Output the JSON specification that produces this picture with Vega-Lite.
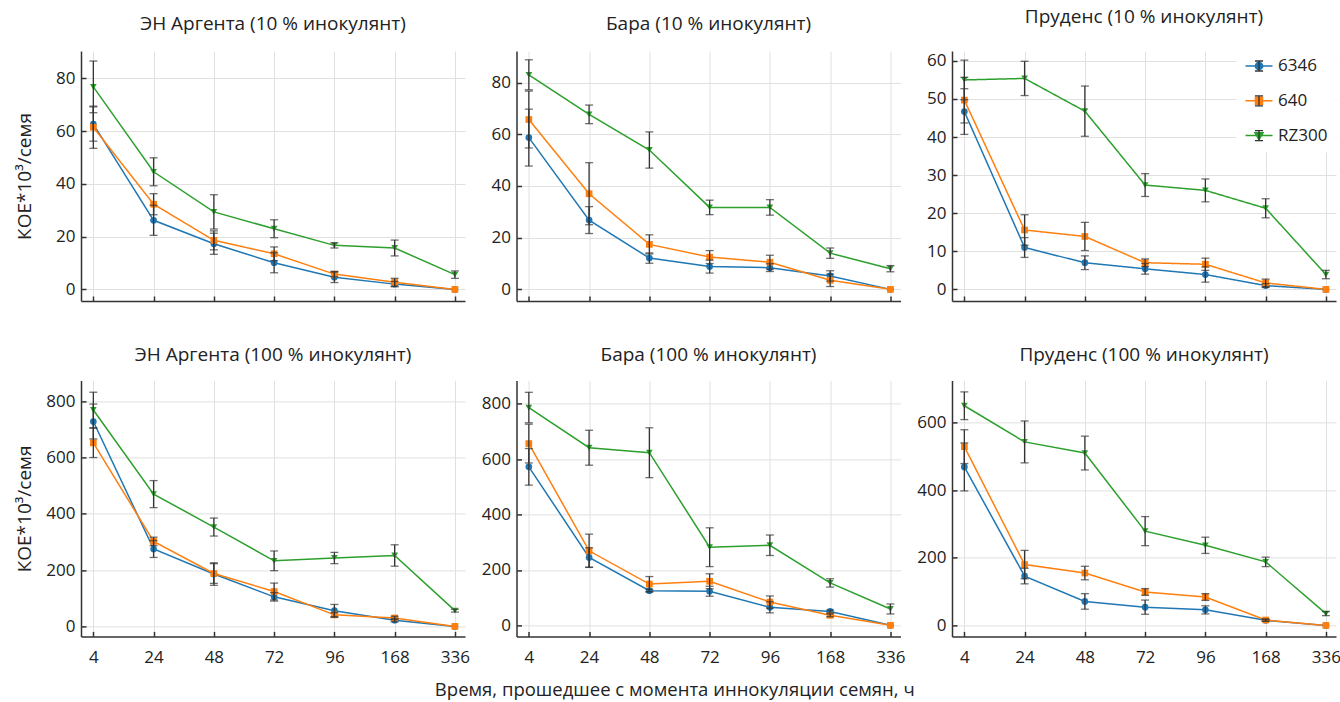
{
  "$schema": "https://vega.github.io/schema/vega-lite/v6.json",
  "padding": {"left": 15, "top": 7, "right": 3, "bottom": 2},
  "config": {
    "font": "Open Sans",
    "view": {"stroke": null},
    "axis": {
      "domainColor": "#333", "domainWidth": 1.5,
      "tickColor": "#333", "tickWidth": 1.5, "tickSize": -5,
      "gridColor": "#e0e0e0", "gridWidth": 1,
      "labelFont": "Open Sans", "labelFontSize": 17, "labelColor": "#222",
      "titleFont": "Open Sans", "titleFontSize": 19, "titleFontWeight": "normal", "titleColor": "#222"
    },
    "title": {"font": "Open Sans", "fontSize": 19, "fontWeight": "normal", "color": "#222", "offset": 21}
  },
  "title": {"text": "Время, прошедшее с момента иннокуляции семян, ч", "orient": "bottom", "anchor": "middle", "offset": 16, "fontSize": 18.5, "dx": -3},
  "data": {"values": [
    {"p":"A10","t":4,"s":"6346","v":62.7,"e":6.5},{"p":"A10","t":24,"s":"6346","v":26.2,"e":5.7},{"p":"A10","t":48,"s":"6346","v":17.3,"e":4.0},{"p":"A10","t":72,"s":"6346","v":10.1,"e":3.8},{"p":"A10","t":96,"s":"6346","v":4.6,"e":2.0},{"p":"A10","t":168,"s":"6346","v":2.0,"e":1.0},{"p":"A10","t":336,"s":"6346","v":0,"e":0},
    {"p":"A10","t":4,"s":"640","v":61.5,"e":8.0},{"p":"A10","t":24,"s":"640","v":32.3,"e":4.0},{"p":"A10","t":48,"s":"640","v":18.6,"e":3.6},{"p":"A10","t":72,"s":"640","v":13.5,"e":2.6},{"p":"A10","t":96,"s":"640","v":5.8,"e":1.0},{"p":"A10","t":168,"s":"640","v":2.7,"e":1.5},{"p":"A10","t":336,"s":"640","v":0,"e":0},
    {"p":"A10","t":4,"s":"RZ300","v":76.8,"e":9.8},{"p":"A10","t":24,"s":"RZ300","v":44.6,"e":5.3},{"p":"A10","t":48,"s":"RZ300","v":29.4,"e":6.5},{"p":"A10","t":72,"s":"RZ300","v":23.0,"e":3.4},{"p":"A10","t":96,"s":"RZ300","v":16.7,"e":1.0},{"p":"A10","t":168,"s":"RZ300","v":15.7,"e":3.0},{"p":"A10","t":336,"s":"RZ300","v":5.6,"e":1.4},

    {"p":"B10","t":4,"s":"6346","v":58.7,"e":11.0},{"p":"B10","t":24,"s":"6346","v":26.8,"e":5.2},{"p":"B10","t":48,"s":"6346","v":12.1,"e":2.0},{"p":"B10","t":72,"s":"6346","v":8.8,"e":2.5},{"p":"B10","t":96,"s":"6346","v":8.4,"e":1.5},{"p":"B10","t":168,"s":"6346","v":5.2,"e":2.0},{"p":"B10","t":336,"s":"6346","v":0,"e":0},
    {"p":"B10","t":4,"s":"640","v":65.7,"e":11.0},{"p":"B10","t":24,"s":"640","v":37.0,"e":12.0},{"p":"B10","t":48,"s":"640","v":17.4,"e":3.7},{"p":"B10","t":72,"s":"640","v":12.5,"e":2.5},{"p":"B10","t":96,"s":"640","v":10.5,"e":2.7},{"p":"B10","t":168,"s":"640","v":3.5,"e":2.4},{"p":"B10","t":336,"s":"640","v":0,"e":0},
    {"p":"B10","t":4,"s":"RZ300","v":83.0,"e":5.8},{"p":"B10","t":24,"s":"RZ300","v":67.7,"e":3.6},{"p":"B10","t":48,"s":"RZ300","v":53.9,"e":7.0},{"p":"B10","t":72,"s":"RZ300","v":31.7,"e":2.8},{"p":"B10","t":96,"s":"RZ300","v":31.7,"e":3.0},{"p":"B10","t":168,"s":"RZ300","v":14.0,"e":2.0},{"p":"B10","t":336,"s":"RZ300","v":8.0,"e":1.2},

    {"p":"P10","t":4,"s":"6346","v":46.7,"e":6.0},{"p":"P10","t":24,"s":"6346","v":11.0,"e":2.6},{"p":"P10","t":48,"s":"6346","v":7.0,"e":1.8},{"p":"P10","t":72,"s":"6346","v":5.4,"e":1.4},{"p":"P10","t":96,"s":"6346","v":3.9,"e":2.0},{"p":"P10","t":168,"s":"6346","v":1.0,"e":0.5},{"p":"P10","t":336,"s":"6346","v":0,"e":0},
    {"p":"P10","t":4,"s":"640","v":49.7,"e":6.0},{"p":"P10","t":24,"s":"640","v":15.6,"e":4.0},{"p":"P10","t":48,"s":"640","v":13.9,"e":3.7},{"p":"P10","t":72,"s":"640","v":7.0,"e":1.0},{"p":"P10","t":96,"s":"640","v":6.6,"e":1.6},{"p":"P10","t":168,"s":"640","v":1.7,"e":1.0},{"p":"P10","t":336,"s":"640","v":0,"e":0},
    {"p":"P10","t":4,"s":"RZ300","v":55.0,"e":5.2},{"p":"P10","t":24,"s":"RZ300","v":55.4,"e":4.5},{"p":"P10","t":48,"s":"RZ300","v":46.8,"e":6.6},{"p":"P10","t":72,"s":"RZ300","v":27.4,"e":3.0},{"p":"P10","t":96,"s":"RZ300","v":26.0,"e":3.0},{"p":"P10","t":168,"s":"RZ300","v":21.3,"e":2.5},{"p":"P10","t":336,"s":"RZ300","v":3.9,"e":1.1},

    {"p":"A100","t":4,"s":"6346","v":728,"e":62},{"p":"A100","t":24,"s":"6346","v":275,"e":30},{"p":"A100","t":48,"s":"6346","v":186,"e":40},{"p":"A100","t":72,"s":"6346","v":105,"e":15},{"p":"A100","t":96,"s":"6346","v":56,"e":22},{"p":"A100","t":168,"s":"6346","v":22,"e":6},{"p":"A100","t":336,"s":"6346","v":0,"e":0},
    {"p":"A100","t":4,"s":"640","v":652,"e":52},{"p":"A100","t":24,"s":"640","v":302,"e":15},{"p":"A100","t":48,"s":"640","v":188,"e":35},{"p":"A100","t":72,"s":"640","v":124,"e":30},{"p":"A100","t":96,"s":"640","v":41,"e":8},{"p":"A100","t":168,"s":"640","v":30,"e":6},{"p":"A100","t":336,"s":"640","v":0,"e":0},
    {"p":"A100","t":4,"s":"RZ300","v":769,"e":63},{"p":"A100","t":24,"s":"RZ300","v":470,"e":48},{"p":"A100","t":48,"s":"RZ300","v":353,"e":32},{"p":"A100","t":72,"s":"RZ300","v":233,"e":35},{"p":"A100","t":96,"s":"RZ300","v":243,"e":20},{"p":"A100","t":168,"s":"RZ300","v":252,"e":38},{"p":"A100","t":336,"s":"RZ300","v":56,"e":5},

    {"p":"B100","t":4,"s":"6346","v":572,"e":66},{"p":"B100","t":24,"s":"6346","v":245,"e":35},{"p":"B100","t":48,"s":"6346","v":125,"e":5},{"p":"B100","t":72,"s":"6346","v":123,"e":18},{"p":"B100","t":96,"s":"6346","v":65,"e":20},{"p":"B100","t":168,"s":"6346","v":50,"e":5},{"p":"B100","t":336,"s":"6346","v":0,"e":0},
    {"p":"B100","t":4,"s":"640","v":656,"e":70},{"p":"B100","t":24,"s":"640","v":269,"e":60},{"p":"B100","t":48,"s":"640","v":149,"e":27},{"p":"B100","t":72,"s":"640","v":159,"e":27},{"p":"B100","t":96,"s":"640","v":84,"e":22},{"p":"B100","t":168,"s":"640","v":36,"e":5},{"p":"B100","t":336,"s":"640","v":0,"e":0},
    {"p":"B100","t":4,"s":"RZ300","v":786,"e":55},{"p":"B100","t":24,"s":"RZ300","v":641,"e":63},{"p":"B100","t":48,"s":"RZ300","v":623,"e":90},{"p":"B100","t":72,"s":"RZ300","v":282,"e":70},{"p":"B100","t":96,"s":"RZ300","v":289,"e":37},{"p":"B100","t":168,"s":"RZ300","v":153,"e":15},{"p":"B100","t":336,"s":"RZ300","v":59,"e":18},

    {"p":"P100","t":4,"s":"6346","v":469,"e":71},{"p":"P100","t":24,"s":"6346","v":146,"e":23},{"p":"P100","t":48,"s":"6346","v":71,"e":23},{"p":"P100","t":72,"s":"6346","v":54,"e":21},{"p":"P100","t":96,"s":"6346","v":46,"e":12},{"p":"P100","t":168,"s":"6346","v":15,"e":3},{"p":"P100","t":336,"s":"6346","v":0,"e":0},
    {"p":"P100","t":4,"s":"640","v":529,"e":50},{"p":"P100","t":24,"s":"640","v":180,"e":42},{"p":"P100","t":48,"s":"640","v":155,"e":20},{"p":"P100","t":72,"s":"640","v":99,"e":10},{"p":"P100","t":96,"s":"640","v":84,"e":10},{"p":"P100","t":168,"s":"640","v":16,"e":3},{"p":"P100","t":336,"s":"640","v":0,"e":0},
    {"p":"P100","t":4,"s":"RZ300","v":650,"e":41},{"p":"P100","t":24,"s":"RZ300","v":543,"e":62},{"p":"P100","t":48,"s":"RZ300","v":510,"e":50},{"p":"P100","t":72,"s":"RZ300","v":279,"e":43},{"p":"P100","t":96,"s":"RZ300","v":237,"e":24},{"p":"P100","t":168,"s":"RZ300","v":188,"e":14},{"p":"P100","t":336,"s":"RZ300","v":35,"e":6}
  ]},
  "columns": 3,
  "spacing": {"column": 51.5, "row": 79.4},
  "bounds": "flush",
  "resolve": {"scale": {"x": "independent", "y": "independent", "color": "independent", "shape": "independent", "strokeDash": "independent"}},
  "concat": [
    {
      "title": {"text": "ЭН Аргента (10 % инокулянт)", "offset": 17},
      "width": 384, "height": 250,
      "transform": [{"filter": "datum.p === 'A10'"}],
      "encoding": {
        "x": {"field": "t", "type": "ordinal", "scale": {"type": "point", "padding": 0.186, "align": 0.55}, "axis": {"title": null, "labels": false, "grid": true}},
        "y": {"field": "v", "type": "quantitative", "scale": {"domain": [-4.4, 90.4], "nice": false, "zero": false}, "axis": {"title": "КОЕ*10³/семя", "values": [0, 20, 40, 60, 80], "labelPadding": 11, "minExtent": 40, "maxExtent": 40, "titlePadding": 7}},
        "color": {"field": "s", "type": "nominal", "scale": {"range": ["#1f77b4", "#ff7f0e", "#2ca02c"]}, "legend": null}
      },
      "layer": [
        {"mark": {"type": "line", "strokeWidth": 1.5}},
        {"mark": {"type": "point", "filled": true, "size": 45, "opacity": 1}, "encoding": {"shape": {"field": "s", "type": "nominal", "scale": {"range": ["circle", "square", "triangle-down"]}, "legend": null}}},
        {"transform": [{"filter": "datum.e > 0"}], "mark": {"type": "errorbar", "ticks": {"size": 8}, "thickness": 1.3}, "encoding": {"yError": {"field": "e"}, "color": {"value": "#333"}}}
      ]
    },
    {
      "title": {"text": "Бара (10 % инокулянт)", "offset": 17},
      "width": 384, "height": 250,
      "transform": [{"filter": "datum.p === 'B10'"}],
      "encoding": {
        "x": {"field": "t", "type": "ordinal", "scale": {"type": "point", "padding": 0.186, "align": 0.55}, "axis": {"title": null, "labels": false, "grid": true}},
        "y": {"field": "v", "type": "quantitative", "scale": {"domain": [-4.5, 92.2], "nice": false, "zero": false}, "axis": {"title": null, "values": [0, 20, 40, 60, 80], "labelPadding": 11}},
        "color": {"field": "s", "type": "nominal", "scale": {"range": ["#1f77b4", "#ff7f0e", "#2ca02c"]}, "legend": null}
      },
      "layer": [
        {"mark": {"type": "line", "strokeWidth": 1.5}},
        {"mark": {"type": "point", "filled": true, "size": 45, "opacity": 1}, "encoding": {"shape": {"field": "s", "type": "nominal", "scale": {"range": ["circle", "square", "triangle-down"]}, "legend": null}}},
        {"transform": [{"filter": "datum.e > 0"}], "mark": {"type": "errorbar", "ticks": {"size": 8}, "thickness": 1.3}, "encoding": {"yError": {"field": "e"}, "color": {"value": "#333"}}}
      ]
    },
    {
      "title": {"text": "Пруденс (10 % инокулянт)", "offset": 17},
      "width": 384, "height": 250,
      "transform": [{"filter": "datum.p === 'P10'"}],
      "encoding": {
        "x": {"field": "t", "type": "ordinal", "scale": {"type": "point", "padding": 0.186, "align": 0.55}, "axis": {"title": null, "labels": false, "grid": true}},
        "y": {"field": "v", "type": "quantitative", "scale": {"domain": [-3.05, 62.6], "nice": false, "zero": false}, "axis": {"title": null, "values": [0, 10, 20, 30, 40, 50, 60], "labelPadding": 11}},
        "color": {"field": "s", "type": "nominal", "scale": {"range": ["#1f77b4", "#ff7f0e", "#2ca02c"]},
          "legend": {
            "orient": "none", "legendX": 284.5, "legendY": -7.5, "title": null,
            "padding": 8, "fillColor": "white", "strokeColor": null, "symbolSize": 729, "symbolStrokeWidth": 1.5,
            "labelFontSize": 17, "labelOffset": 4.5, "rowPadding": 11.8, "labelColor": "#222", "labelFont": "Open Sans",
            "encode": {"symbols": {"update": {
              "shape": {"signal": "datum.value === '6346' ? 'M-1,0H1M-0.27,0A0.27,0.27,0,1,1,0.27,0A0.27,0.27,0,1,1,-0.27,0Z' : datum.value === '640' ? 'M-1,0H1M-0.26,-0.26H0.26V0.26H-0.26Z' : 'M-1,0H1M-0.3,-0.22H0.3L0,0.3Z'"},
              "fill": {"signal": "datum.value === '6346' ? '#1f77b4' : datum.value === '640' ? '#ff7f0e' : '#2ca02c'"},
              "stroke": {"signal": "datum.value === '6346' ? '#1f77b4' : datum.value === '640' ? '#ff7f0e' : '#2ca02c'"},
              "strokeWidth": {"value": 1.5},
              "opacity": {"value": 1}
            }}}
          }
        }
      },
      "layer": [
        {"mark": {"type": "line", "strokeWidth": 1.5},
         "encoding": {"strokeDash": {"field": "s", "type": "nominal", "scale": {"domain": ["6346", "640", "RZ300"], "range": [[1, 0], [1, 0], [1, 0]]},
           "legend": {
             "orient": "none", "legendX": 284.5, "legendY": -7.5, "title": null,
             "padding": 8, "fillColor": null, "strokeColor": null, "symbolSize": 729, "symbolStrokeWidth": 1.3,
             "labelFontSize": 17, "labelOffset": 4.5, "rowPadding": 11.8, "labelOpacity": 0, "labelFont": "Open Sans",
             "encode": {"symbols": {"update": {
               "shape": {"value": "M0,-0.37V0.37M-0.3,-0.37H0.3M-0.3,0.37H0.3"},
               "stroke": {"value": "#333"},
               "fill": {"value": "transparent"},
               "strokeDash": {"value": [1, 0]},
               "strokeWidth": {"value": 1.3},
               "opacity": {"value": 1}
             }}}
           }}}},
        {"mark": {"type": "point", "filled": true, "size": 45, "opacity": 1}, "encoding": {"shape": {"field": "s", "type": "nominal", "scale": {"range": ["circle", "square", "triangle-down"]}, "legend": null}}},
        {"transform": [{"filter": "datum.e > 0"}], "mark": {"type": "errorbar", "ticks": {"size": 8}, "thickness": 1.3}, "encoding": {"yError": {"field": "e"}, "color": {"value": "#333"}}}
      ]
    },
    {
      "title": {"text": "ЭН Аргента (100 % инокулянт)", "offset": 15.3},
      "width": 384, "height": 256,
      "transform": [{"filter": "datum.p === 'A100'"}],
      "encoding": {
        "x": {"field": "t", "type": "ordinal", "scale": {"type": "point", "padding": 0.186, "align": 0.55}, "axis": {"title": null, "labels": true, "labelAngle": 0, "labelPadding": 18, "grid": true}},
        "y": {"field": "v", "type": "quantitative", "scale": {"domain": [-35.5, 874], "nice": false, "zero": false}, "axis": {"title": "КОЕ*10³/семя", "values": [0, 200, 400, 600, 800], "labelPadding": 11, "minExtent": 40, "maxExtent": 40, "titlePadding": 7}},
        "color": {"field": "s", "type": "nominal", "scale": {"range": ["#1f77b4", "#ff7f0e", "#2ca02c"]}, "legend": null}
      },
      "layer": [
        {"mark": {"type": "line", "strokeWidth": 1.5}},
        {"mark": {"type": "point", "filled": true, "size": 45, "opacity": 1}, "encoding": {"shape": {"field": "s", "type": "nominal", "scale": {"range": ["circle", "square", "triangle-down"]}, "legend": null}}},
        {"transform": [{"filter": "datum.e > 0"}], "mark": {"type": "errorbar", "ticks": {"size": 8}, "thickness": 1.3}, "encoding": {"yError": {"field": "e"}, "color": {"value": "#333"}}}
      ]
    },
    {
      "title": {"text": "Бара (100 % инокулянт)", "offset": 15.3},
      "width": 384, "height": 256,
      "transform": [{"filter": "datum.p === 'B100'"}],
      "encoding": {
        "x": {"field": "t", "type": "ordinal", "scale": {"type": "point", "padding": 0.186, "align": 0.55}, "axis": {"title": null, "labels": true, "labelAngle": 0, "labelPadding": 18, "grid": true}},
        "y": {"field": "v", "type": "quantitative", "scale": {"domain": [-40, 884], "nice": false, "zero": false}, "axis": {"title": null, "values": [0, 200, 400, 600, 800], "labelPadding": 11}},
        "color": {"field": "s", "type": "nominal", "scale": {"range": ["#1f77b4", "#ff7f0e", "#2ca02c"]}, "legend": null}
      },
      "layer": [
        {"mark": {"type": "line", "strokeWidth": 1.5}},
        {"mark": {"type": "point", "filled": true, "size": 45, "opacity": 1}, "encoding": {"shape": {"field": "s", "type": "nominal", "scale": {"range": ["circle", "square", "triangle-down"]}, "legend": null}}},
        {"transform": [{"filter": "datum.e > 0"}], "mark": {"type": "errorbar", "ticks": {"size": 8}, "thickness": 1.3}, "encoding": {"yError": {"field": "e"}, "color": {"value": "#333"}}}
      ]
    },
    {
      "title": {"text": "Пруденс (100 % инокулянт)", "offset": 15.3},
      "width": 384, "height": 256,
      "transform": [{"filter": "datum.p === 'P100'"}],
      "encoding": {
        "x": {"field": "t", "type": "ordinal", "scale": {"type": "point", "padding": 0.186, "align": 0.55}, "axis": {"title": null, "labels": true, "labelAngle": 0, "labelPadding": 18, "grid": true}},
        "y": {"field": "v", "type": "quantitative", "scale": {"domain": [-32.5, 725], "nice": false, "zero": false}, "axis": {"title": null, "values": [0, 200, 400, 600], "labelPadding": 11}},
        "color": {"field": "s", "type": "nominal", "scale": {"range": ["#1f77b4", "#ff7f0e", "#2ca02c"]}, "legend": null}
      },
      "layer": [
        {"mark": {"type": "line", "strokeWidth": 1.5}},
        {"mark": {"type": "point", "filled": true, "size": 45, "opacity": 1}, "encoding": {"shape": {"field": "s", "type": "nominal", "scale": {"range": ["circle", "square", "triangle-down"]}, "legend": null}}},
        {"transform": [{"filter": "datum.e > 0"}], "mark": {"type": "errorbar", "ticks": {"size": 8}, "thickness": 1.3}, "encoding": {"yError": {"field": "e"}, "color": {"value": "#333"}}}
      ]
    }
  ]
}
